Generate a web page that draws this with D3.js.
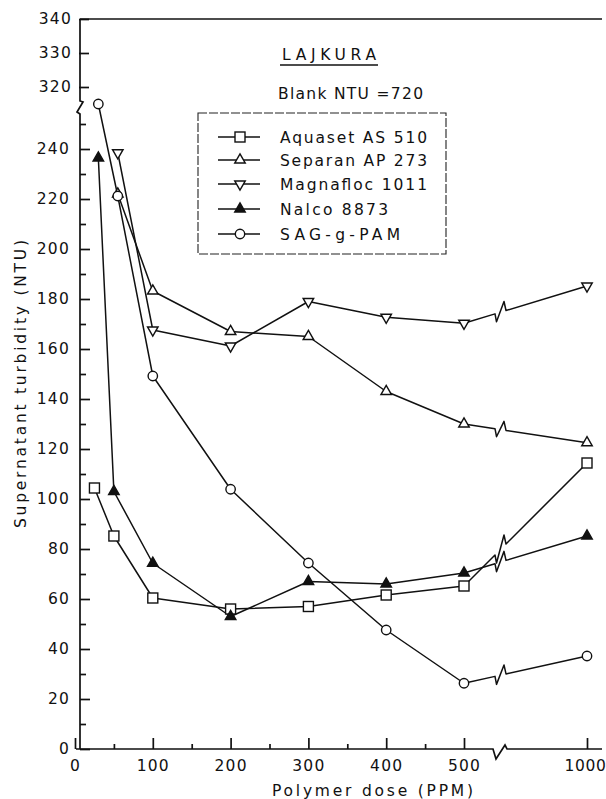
<!DOCTYPE html>
<html>
<head>
<meta charset="utf-8">
<script src="https://cdn.jsdelivr.net/npm/d3@7"></script>
<style>
  body { margin: 0; background: #fff; }
  text { font-family: "DejaVu Sans", sans-serif; fill: #111; }
</style>
</head>
<body>
<svg id="chart" width="606" height="799"></svg>
<script>
// Supernatant turbidity vs polymer dose, Lajkura clay suspension
const seriesNames = ['Aquaset AS 510', 'Separan AP 273', 'Magnafloc 1011', 'Nalco 8873', 'SAG-g-PAM']
const seriesMarks = ['square', 'triUp', 'triDown', 'triFilled', 'circle']

const aquasetDose = [25, 50, 100, 200, 300, 400, 500, 1000]
const aquasetNTU  = [104.4, 85.2, 60.4, 56, 57, 61.6, 65.2, 114.4]

const separanDose = [55, 100, 200, 300, 400, 500, 1000]
const separanNTU  = [222, 183.2, 167, 165, 143, 130, 122.5]

const magnaflocDose = [55, 100, 200, 300, 400, 500, 1000]
const magnaflocNTU  = [238.5, 167.6, 161.2, 179, 172.7, 170.3, 185.2]

const nalcoDose = [30, 50, 100, 200, 300, 400, 500, 1000]
const nalcoNTU  = [236.4, 103, 74.3, 53, 67, 66, 70.4, 85.2]

const sagDose = [30, 55, 100, 200, 300, 400, 500, 1000]
const sagNTU  = [315, 221.2, 149.2, 103.9, 74.4, 47.6, 26.3, 37.2]

const xMajorTicks = [0, 100, 200, 300, 400, 500, 1000]
const xMinorTicks = [50, 150, 250, 350, 450]
const yLowMajorTicks = d3.range(0, 241, 20)
const yLowMinorTicks = d3.range(10, 251, 20)
const yHighTicks = [320, 330, 340]

const plotTitle = 'LAJKURA'
const blankNote = 'Blank NTU =720'
const xTitle = 'Polymer dose (PPM)'
const yTitle = 'Supernatant turbidity (NTU)'

let allSeries = [
    aquasetDose.map((d, i) => ({dose: d, ntu: aquasetNTU[i]})),
    separanDose.map((d, i) => ({dose: d, ntu: separanNTU[i]})),
    magnaflocDose.map((d, i) => ({dose: d, ntu: magnaflocNTU[i]})),
    nalcoDose.map((d, i) => ({dose: d, ntu: nalcoNTU[i]})),
    sagDose.map((d, i) => ({dose: d, ntu: sagNTU[i]}))
]

let svg = d3.select('#chart')

// broken axes: x jumps from 500 to 1000, y jumps from ~260 to ~313
let x = d3.scaleLinear().domain([0, 500, 1000]).range([75, 464, 587])
let yLow = d3.scaleLinear().domain([0, 240]).range([749, 149])
let yHigh = d3.scaleLinear().domain([320, 340]).range([87, 19])
let y = v => v > 290 ? yHigh(v) : yLow(v)

const axisX0 = 80, axisY0 = 749, xBreak = 493

// frame lines with breaks
svg.append('path')
    .attr('d', `M${axisX0},19 V101 L83,102 L77,112 L${axisX0},114 V${axisY0}`)
    .attr('fill', 'none').attr('stroke', '#111').attr('stroke-width', 1.7)
svg.append('path')
    .attr('d', `M${axisX0 - 4},${axisY0} H${xBreak} L${xBreak + 3},${axisY0 + 10} L${xBreak + 12},${axisY0 - 4} L${xBreak + 14},${axisY0} H602`)
    .attr('fill', 'none').attr('stroke', '#111').attr('stroke-width', 1.7)
svg.append('line')
    .attr('x1', axisX0).attr('x2', 602).attr('y1', 19).attr('y2', 19)
    .attr('stroke', '#111').attr('stroke-width', 1.4)

let styleAxis = g => {
    g.select('.domain').remove()
    g.selectAll('line').attr('stroke', '#111').attr('stroke-width', 1.7)
    g.selectAll('text').attr('font-size', 15.5).attr('letter-spacing', 1.2)
        .style('font-family', '"DejaVu Sans", sans-serif').attr('fill', '#111')
}

svg.append('g').attr('transform', `translate(${axisX0},0)`)
    .call(d3.axisLeft(yLow).tickValues(yLowMajorTicks).tickSize(-10).tickPadding(10).tickFormat(d3.format('d')))
    .call(styleAxis)
svg.append('g').attr('transform', `translate(${axisX0},0)`)
    .call(d3.axisLeft(yLow).tickValues(yLowMinorTicks).tickSize(-6).tickFormat(''))
    .call(styleAxis)
svg.append('g').attr('transform', `translate(${axisX0 - 1},0)`)
    .call(d3.axisLeft(yHigh).tickValues(yHighTicks).tickSize(-10).tickPadding(7).tickFormat(d3.format('d')))
    .call(styleAxis)

let xAxisG = svg.append('g').attr('transform', `translate(0,${axisY0})`)
    .call(d3.axisBottom(x).tickValues(xMajorTicks).tickSize(-11).tickPadding(11).tickFormat(d3.format('d')))
    .call(styleAxis)
// keep the last label inside the page
xAxisG.selectAll('.tick').filter(d => d == 1000).select('text')
    .attr('letter-spacing', 0.6).attr('x', -2)
svg.append('g').attr('transform', `translate(0,${axisY0})`)
    .call(d3.axisBottom(x).tickValues(xMinorTicks).tickSize(-5).tickFormat(''))
    .call(styleAxis)

// axis titles
svg.append('text')
    .attr('x', 272).attr('y', 796)
    .attr('font-size', 15.5).attr('textLength', 201).attr('lengthAdjust', 'spacing')
    .text(xTitle)
svg.append('text')
    .attr('transform', 'translate(26,528) rotate(-90)')
    .attr('font-size', 15.5).attr('textLength', 288).attr('lengthAdjust', 'spacing')
    .text(yTitle)

// title + note
svg.append('text')
    .attr('x', 282).attr('y', 60)
    .attr('font-size', 15.5).attr('textLength', 94).attr('lengthAdjust', 'spacing')
    .text(plotTitle)
svg.append('line')
    .attr('x1', 280).attr('x2', 378).attr('y1', 65).attr('y2', 65)
    .attr('stroke', '#111').attr('stroke-width', 1.5)
svg.append('text')
    .attr('x', 278).attr('y', 99)
    .attr('font-size', 15.5).attr('textLength', 145).attr('lengthAdjust', 'spacing')
    .text(blankNote)

// markers
let drawMark = (g, kind, cx, cy) => {
    if (kind == 'square') {
        g.append('rect').attr('x', cx - 5).attr('y', cy - 5).attr('width', 10).attr('height', 10)
            .attr('fill', '#fff').attr('stroke', '#111').attr('stroke-width', 1.4)
    } else if (kind == 'circle') {
        g.append('circle').attr('cx', cx).attr('cy', cy).attr('r', 4.7)
            .attr('fill', '#fff').attr('stroke', '#111').attr('stroke-width', 1.4)
    } else {
        let rot = kind == 'triDown' ? 180 : 0
        g.append('path')
            .attr('d', d3.symbol().type(d3.symbolTriangle).size(48)())
            .attr('transform', `translate(${cx},${cy}) rotate(${rot})`)
            .attr('fill', kind == 'triFilled' ? '#111' : '#fff')
            .attr('stroke', '#111').attr('stroke-width', 1.4)
    }
}

// series paths; the 500 -> 1000 segment gets a little break zigzag
let seriesPath = pts => {
    let p = pts.map(d => [x(d.dose), y(d.ntu)])
    let s = 'M' + p[0][0] + ',' + p[0][1]
    for (let i = 1; i < p.length; i++) {
        let a = p[i - 1], b = p[i]
        if (pts[i].dose == 1000) {
            let at = xx => a[1] + (b[1] - a[1]) * (xx - a[0]) / (b[0] - a[0])
            let bx = 495
            let ya = at(bx), yb = at(bx + 11)
            s += `L${bx},${ya}L${bx + 1.5},${ya + 8}L${bx + 9},${yb - 9}L${bx + 11},${yb}`
        }
        s += 'L' + b[0] + ',' + b[1]
    }
    return s
}

let lineG = svg.append('g')
allSeries.forEach(pts => {
    lineG.append('path')
        .attr('d', seriesPath(pts))
        .attr('fill', 'none').attr('stroke', '#111').attr('stroke-width', 1.5)
        .attr('stroke-linejoin', 'round')
})
let markG = svg.append('g')
allSeries.forEach((pts, i) => {
    pts.forEach(d => drawMark(markG, seriesMarks[i], x(d.dose), y(d.ntu)))
})

// legend
let legend = svg.append('g')
legend.append('rect')
    .attr('x', 198).attr('y', 113).attr('width', 248).attr('height', 141)
    .attr('fill', 'none').attr('stroke', '#222').attr('stroke-width', 1.1)
    .attr('stroke-dasharray', '9,2')
const legendRows = [137, 160, 184, 209, 234]
const legendWidths = [147, 147, 147, 108, 120]
seriesNames.forEach((name, i) => {
    let ly = legendRows[i]
    legend.append('line')
        .attr('x1', 218).attr('x2', 260).attr('y1', ly).attr('y2', ly)
        .attr('stroke', '#111').attr('stroke-width', 1.4)
    drawMark(legend, seriesMarks[i], 240, ly)
    legend.append('text')
        .attr('x', 280).attr('y', ly + 6)
        .attr('font-size', 15.5).attr('textLength', legendWidths[i]).attr('lengthAdjust', 'spacing')
        .text(name)
})
</script>
</body>
</html>
